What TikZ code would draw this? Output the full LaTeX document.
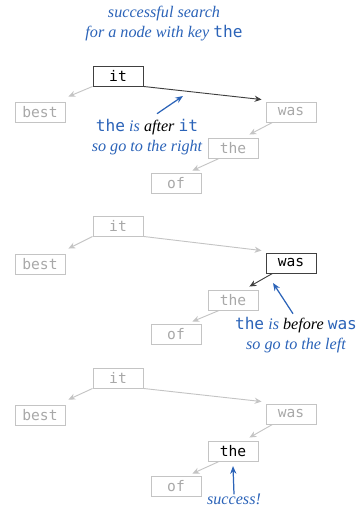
\documentclass[tikz,border=0pt]{standalone}
\usepackage{fontspec}
\setmonofont{DejaVu Sans Mono}
\newfontfamily\notefont{Liberation Serif}
\usetikzlibrary{arrows.meta}
\definecolor{keyblue}{HTML}{2B63B8}
\definecolor{lgray}{HTML}{C4C4C4}
\definecolor{tgray}{HTML}{A8A8A8}
\definecolor{dgray}{HTML}{404040}
\newcommand{\kw}[1]{{\upshape\ttfamily #1}}

\begin{document}
\begin{tikzpicture}[x=0.65pt,y=-0.65pt,
  key/.style={draw=lgray,semithick,text=tgray,font=\ttfamily\fontsize{9.5}{10}\selectfont,
    minimum width=32.5pt,minimum height=13pt,inner sep=0pt},
  hit/.style={key,draw=dgray,text=black},
  found/.style={key,text=black},
  link/.style={-{Stealth[length=4.5pt,width=4pt]},lgray,semithick},
  walk/.style={link,dgray},
  note/.style={keyblue,font=\notefont\itshape\fontsize{10.5}{13}\selectfont,align=center},
  pointer/.style={-{Stealth[length=5pt,width=4pt]},keyblue,thick}]
  \useasboundingbox (0,0) rectangle (355,509);
  \node[note] (title) at (164,24) {successful search\\for a node with key \kw{the}}; %見出し

  % 1段目: it から右へ
  \node[hit] (it1) at (118,76) {it};
  \node[key] (best1) at (40,112) {best};
  \node[key] (was1) at (291,112) {was};
  \node[key] (the1) at (233,148) {the};
  \node[key] (of1) at (176,183) {of};
  \draw[link] (it1.south west)--([shift={(3,-5)}]best1.north east);
  \draw[walk] (it1.south east)--([shift={(-4,-2)}]was1.north west);
  \draw[link] ([xshift=4.5pt]was1.south west)--([shift={(-9,-3)}]the1.north east);
  \draw[link] ([xshift=7.5pt]the1.south west)--([shift={(-9,-2)}]of1.north east);
  \node[note] (after) at (147,137) {\kw{the} is \textcolor{black}{after} \kw{it}\\so go to the right};
  \coordinate (p1) at (183,96);
  \draw[pointer] ([shift={(10,0)}]after.north)--(p1);

  % 2段目: was から左へ
  \node[key] (it2) at (118,226) {it};
  \node[key] (best2) at (40,264) {best};
  \node[hit] (was2) at (291,263) {was};
  \node[key] (the2) at (233,300) {the};
  \node[key] (of2) at (176,334) {of};
  \draw[link] (it2.south west)--([shift={(3,-5)}]best2.north east);
  \draw[link] (it2.south east)--([shift={(-4,-2)}]was2.north west);
  \draw[walk] ([xshift=4.5pt]was2.south west)--([shift={(-9,-3)}]the2.north east);
  \draw[link] ([xshift=7.5pt]the2.south west)--([shift={(-9,-2)}]of2.north east);
  \node[note] (before) at (296,335) {\kw{the} is \textcolor{black}{before} \kw{was}\\so go to the left};
  \coordinate (p2) at (273,283);
  \draw[pointer] ([shift={(-3,2)}]before.north)--(p2);

  % 3段目: the で見つかる
  \node[key] (it3) at (118,378) {it};
  \node[key] (best3) at (40,415) {best};
  \node[key] (was3) at (291,414) {was};
  \node[found] (the3) at (233,451) {the};
  \node[key] (of3) at (176,486) {of};
  \draw[link] (it3.south west)--([shift={(3,-5)}]best3.north east);
  \draw[link] (it3.south east)--([shift={(-4,-2)}]was3.north west);
  \draw[link] ([xshift=4.5pt]was3.south west)--([shift={(-9,-3)}]the3.north east);
  \draw[link] ([xshift=7.5pt]the3.south west)--([shift={(-9,-2)}]of3.north east);
  \node[note] (success) at (234,499) {success!};
  \draw[pointer] ([yshift=-4pt]success.north)--([yshift=-3pt]the3.south);
\end{tikzpicture}
\end{document}
